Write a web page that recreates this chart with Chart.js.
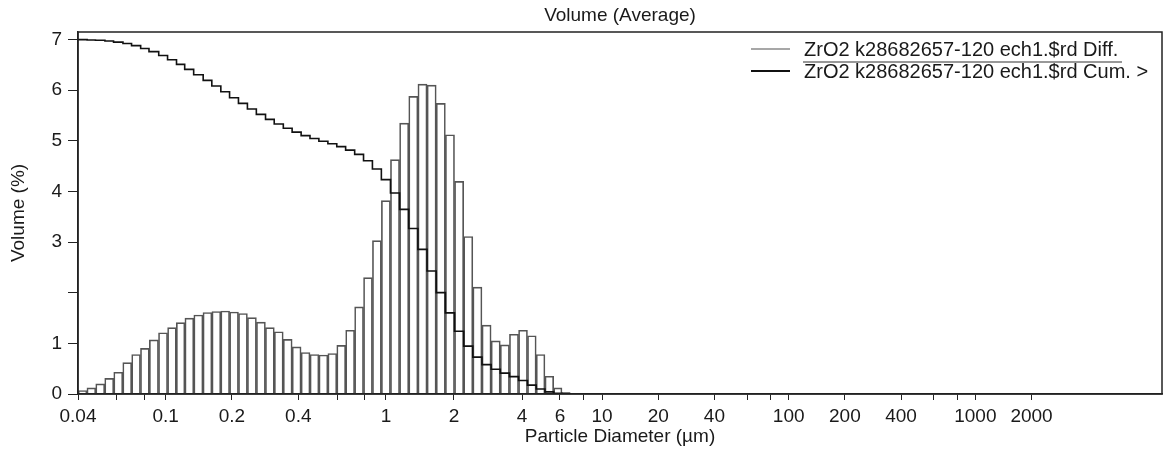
<!DOCTYPE html>
<html>
<head>
<meta charset="utf-8">
<script src="https://cdn.jsdelivr.net/npm/chart.js@4"></script>
<style>
  html, body { margin: 0; padding: 0; background: #fff; }
  #wrap { width: 1165px; height: 452px; }
</style>
</head>
<body>
<div id="wrap"><canvas id="psdChart"></canvas></div>
<script>
// size class edges (µm)
const edges = [0.040, 0.044, 0.048, 0.053, 0.058, 0.064, 0.070, 0.077, 0.084, 0.093,
  0.102, 0.112, 0.122, 0.134, 0.148, 0.162, 0.178, 0.195, 0.214, 0.235,
  0.258, 0.284, 0.311, 0.342, 0.375, 0.412, 0.452, 0.496, 0.545, 0.598,
  0.656, 0.721, 0.791, 0.868, 0.953, 1.047, 1.149, 1.261, 1.385, 1.520,
  1.669, 1.832, 2.011, 2.208, 2.423, 2.660, 2.920, 3.206, 3.519, 3.863,
  4.241, 4.656, 5.111, 5.611, 6.159, 6.761];

// volume % in each class (Diff.)
const diffVolume = [0.07, 0.12, 0.20, 0.31, 0.43, 0.62, 0.78, 0.90, 1.07, 1.21,
  1.31, 1.41, 1.50, 1.56, 1.61, 1.63, 1.64, 1.62, 1.59, 1.51,
  1.42, 1.31, 1.23, 1.08, 0.93, 0.82, 0.78, 0.77, 0.80, 0.96,
  1.26, 1.72, 2.30, 3.03, 3.82, 4.63, 5.35, 5.88, 6.12, 6.10,
  5.74, 5.12, 4.20, 3.11, 2.11, 1.36, 1.05, 0.97, 1.18, 1.26,
  1.15, 0.78, 0.35, 0.12, 0.03];

// volume % above each edge (Cum. >)
const cumOver = [100, 99.9, 99.8, 99.6, 99.3, 98.9, 98.3, 97.5, 96.6, 95.5,
  94.3, 93.0, 91.6, 90.1, 88.5, 86.9, 85.3, 83.6, 82.0, 80.4,
  78.9, 77.5, 76.2, 75.0, 73.9, 72.9, 72.1, 71.3, 70.6, 69.8,
  68.8, 67.6, 65.8, 63.5, 60.5, 56.7, 52.1, 46.7, 40.8, 34.7,
  28.6, 22.9, 17.7, 13.5, 10.4, 8.3, 7.0, 5.9, 4.9, 3.8,
  2.5, 1.4, 0.6, 0.2, 0.1, 0];

const xTickValues = [0.04, 0.06, 0.08, 0.1, 0.2, 0.4, 0.6, 0.8, 1, 2, 4, 6, 8, 10, 20, 40, 60, 80,
  100, 200, 400, 600, 800, 1000, 2000];
const xTickLabels = ['0.04', '', '', '0.1', '0.2', '0.4', '', '', '1', '2', '4', '6', '', '10', '20', '40', '', '',
  '100', '200', '400', '', '', '1000', '2000'];
const yTickValues = [0, 1, 2, 3, 4, 5, 6, 7];
const yTickLabels = ['0', '1', '', '3', '4', '5', '6', '7'];
const seriesNames = ['ZrO2 k28682657-120 ech1.$rd Diff.', 'ZrO2 k28682657-120 ech1.$rd Cum. >'];
const chartTitle = 'Volume (Average)';

const yMax = 7.15;

// the printed axis is not an even log scale, so decades get their own widths
const axisKnots = [[0.04, 0], [1, 0.2841], [4, 0.4096], [6, 0.4446], [10, 0.4834], [10000, 1]];

class StretchedLogScale extends Chart.LogarithmicScale {
  getPixelForValue(value) {
    if (!(value > 0)) value = this.min;
    const L = Math.log10(value);
    let dec = 0;
    for (let i = 1; i < axisKnots.length; i++) {
      const a = Math.log10(axisKnots[i - 1][0]);
      const b = Math.log10(axisKnots[i][0]);
      if (L <= b || i === axisKnots.length - 1) {
        dec = axisKnots[i - 1][1] + (L - a) / (b - a) * (axisKnots[i][1] - axisKnots[i - 1][1]);
        break;
      }
    }
    return this.getPixelForDecimal(dec);
  }
  getValueForPixel(pixel) {
    const dec = this.getDecimalForPixel(pixel);
    for (let i = 1; i < axisKnots.length; i++) {
      if (dec <= axisKnots[i][1] || i === axisKnots.length - 1) {
        const a = Math.log10(axisKnots[i - 1][0]);
        const b = Math.log10(axisKnots[i][0]);
        const t = (dec - axisKnots[i - 1][1]) / (axisKnots[i][1] - axisKnots[i - 1][1]);
        return Math.pow(10, a + t * (b - a));
      }
    }
  }
}
StretchedLogScale.id = 'stretchedLog';
StretchedLogScale.defaults = {};
Chart.register(StretchedLogScale);

Chart.defaults.font.family = '"Liberation Sans", Arial, sans-serif';
Chart.defaults.font.size = 19;
Chart.defaults.color = '#1a1a1a';

// frame round the plot, title over the plot and the legend inside it
const frameLegend = {
  id: 'frameLegend',
  afterDatasetsDraw(chart) {
    const { ctx, chartArea: a } = chart;
    ctx.save();
    ctx.strokeStyle = '#222';
    ctx.lineWidth = 1.5;
    ctx.strokeRect(a.left, a.top, a.right - a.left, a.bottom - a.top);

    ctx.fillStyle = '#1a1a1a';
    ctx.textAlign = 'center';
    ctx.textBaseline = 'middle';
    ctx.font = '19px "Liberation Sans", Arial, sans-serif';
    ctx.fillText(chartTitle, (a.left + a.right) / 2, a.top - 16);

    const x0 = a.right - 411, x1 = a.right - 372, tx = a.right - 358;
    const rows = [a.top + 17, a.top + 39];
    const colors = ['#8a8a8a', '#111'];
    ctx.font = '20px "Liberation Sans", Arial, sans-serif';
    ctx.textAlign = 'left';
    rows.forEach((y, i) => {
      ctx.strokeStyle = colors[i];
      ctx.lineWidth = i === 0 ? 1.3 : 2;
      ctx.beginPath();
      ctx.moveTo(x0, y);
      ctx.lineTo(x1, y);
      ctx.stroke();
      ctx.fillText(seriesNames[i], tx, y + 1);
    });
    ctx.strokeStyle = '#333';
    ctx.lineWidth = 1.2;
    ctx.beginPath();
    ctx.moveTo(tx - 1, a.top + 30);
    ctx.lineTo(a.right - 40, a.top + 30);
    ctx.stroke();
    ctx.restore();
  }
};

const ctx = document.getElementById('psdChart').getContext('2d');
new Chart(ctx, {
  type: 'bar',
  data: {
    datasets: [
      {
        type: 'line',
        label: seriesNames[1],
        data: edges.map((e, i) => ({ x: e, y: cumOver[i] })),
        yAxisID: 'yc',
        stepped: true,
        borderColor: '#111',
        borderWidth: 1.6,
        pointRadius: 0,
        fill: false,
        order: 0
      },
      {
        label: seriesNames[0],
        data: diffVolume.map((v, i) => ({ x: Math.sqrt(edges[i] * edges[i + 1]), y: v })),
        yAxisID: 'y',
        backgroundColor: 'rgba(255,255,255,0)',
        borderColor: '#555',
        borderWidth: 1,
        barThickness: 'flex',
        categoryPercentage: 1,
        barPercentage: 1,
        order: 1
      }
    ]
  },
  options: {
    responsive: true,
    maintainAspectRatio: false,
    devicePixelRatio: 1,
    animation: false,
    layout: { padding: { left: 0, right: 3, top: 32, bottom: 0 } },
    plugins: {
      legend: { display: false },
      tooltip: { enabled: false },
      title: { display: false }
    },
    scales: {
      x: {
        type: 'stretchedLog',
        min: 0.04,
        max: 10000,
        offset: false,
        grid: { drawOnChartArea: false, drawTicks: true, tickLength: 6, color: '#222', offset: false },
        border: { display: true, color: '#222', width: 1.5 },
        ticks: {
          autoSkip: false,
          maxRotation: 0,
          padding: 5,
          callback: (v, i) => xTickLabels[i]
        },
        afterBuildTicks: s => { s.ticks = xTickValues.map(v => ({ value: v })); },
        afterFit: s => { s.height = 58; },
        title: { display: true, text: 'Particle Diameter (µm)', padding: { top: 0, bottom: 4 } }
      },
      y: {
        min: 0,
        max: yMax,
        grid: { drawOnChartArea: false, tickLength: 10, color: '#222' },
        border: { display: true, color: '#222', width: 1.5 },
        ticks: { padding: 6, callback: (v, i) => yTickLabels[i] },
        afterBuildTicks: s => { s.ticks = yTickValues.map(v => ({ value: v })); },
        afterFit: s => { s.width = 78; },
        title: { display: true, text: 'Volume (%)', padding: { top: 7, bottom: 0 } }
      },
      yc: {
        display: false,
        min: 0,
        max: 100 * yMax / 7
      }
    }
  },
  plugins: [frameLegend]
});
</script>
</body>
</html>
